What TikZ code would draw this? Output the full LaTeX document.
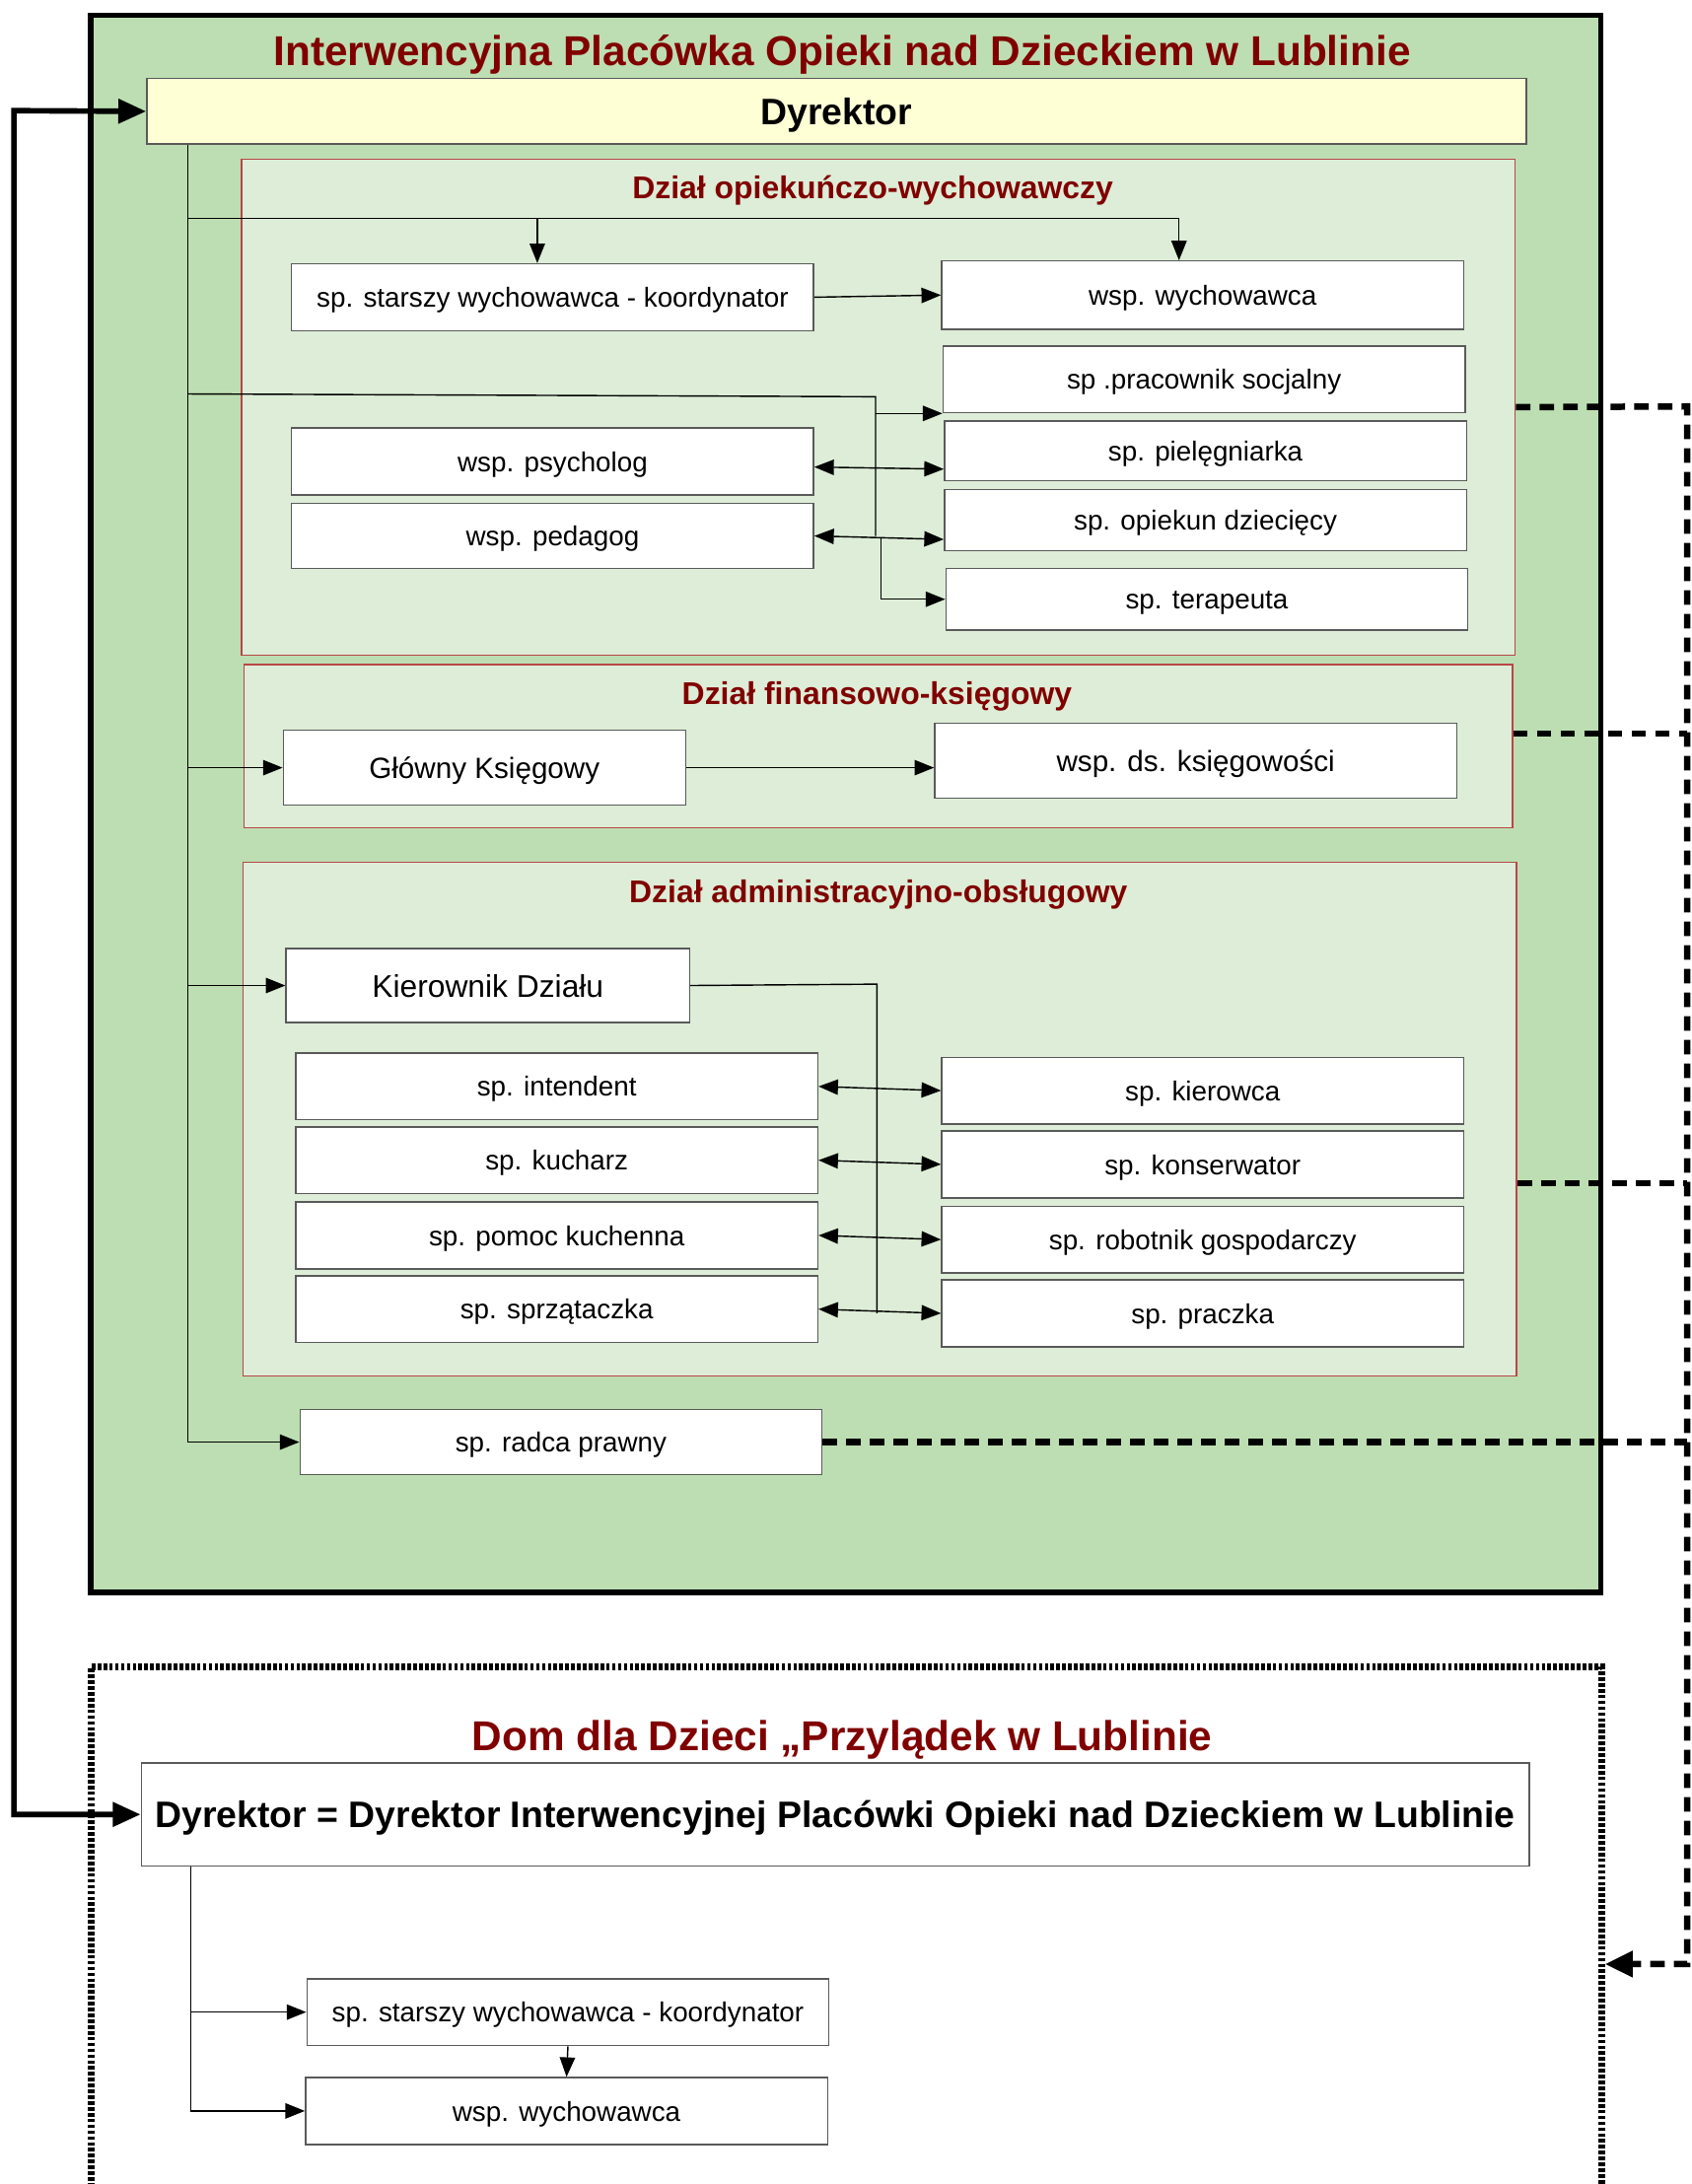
\documentclass[tikz,border=0pt]{standalone}
\usepackage{fontspec}
\setmainfont{Liberation Sans}
\usetikzlibrary{arrows.meta,positioning}
\definecolor{zielen}{RGB}{189,222,178}
\definecolor{jasnazielen}{RGB}{221,237,215}
\definecolor{zolty}{RGB}{255,255,214}
\definecolor{bordo}{RGB}{128,0,0}
\definecolor{ramka}{RGB}{90,90,90}
\definecolor{czerw}{RGB}{185,70,70}

\begin{document}
\begin{tikzpicture}[x=1pt, y=-1pt, line width=1pt,
    >={Triangle[length=14pt,width=11pt]},
    box/.style={draw=ramka, fill=white, anchor=north west, inner sep=0pt,
        text height=18.3pt, text depth=4pt,
        minimum width=375pt, minimum height=48pt, font=\fontsize{19.7}{23}\selectfont},
    dzial/.style={draw=czerw, fill=jasnazielen, anchor=north west, inner sep=0pt},
    tytul/.style={text=bordo, font=\bfseries\fontsize{22.6}{27}\selectfont},
    duzy/.style={text=bordo, font=\bfseries\fontsize{30}{36}\selectfont},
    szef/.style={text height=24.6pt, text depth=5.3pt, font=\bfseries\fontsize{26.5}{31}\selectfont},
    kreski/.style={line width=4.6pt, dash pattern=on 10.5pt off 6.5pt},
    gruba/.style={line width=4pt}]
    \useasboundingbox (0,0) rectangle (1215,1569);

    % placowka
    \node[draw, fill=zielen, line width=4pt, anchor=north west, minimum width=1085pt, minimum height=1133pt] (ipo) at (63,9) {};
    \node[duzy] (tytul) at (605,39) {Interwencyjna Placówka Opieki nad Dzieckiem w Lublinie};
    \node[box, szef, fill=zolty, minimum width=991pt, minimum height=47pt] (dyr) at (105,56) {Dyrektor};

    % dzialy
    \node[dzial, minimum width=915pt, minimum height=356pt] (dzial1) at (173,114) {};
    \node[dzial, minimum width=911pt, minimum height=117pt] (dzial2) at (175,477) {};
    \node[dzial, minimum width=915pt, minimum height=369pt] (dzial3) at (174,619) {};
    \node[tytul] (t1) at (627,137) {Dział opiekuńczo-wychowawczy};
    \node[tytul] (t2) at (630,500) {Dział finansowo-księgowy};
    \node[tytul] (t3) at (631,643) {Dział administracyjno-obsługowy};

    \node[box] (starszy) at (209,189) {sp. starszy wychowawca - koordynator};
    \node[box, minimum height=49pt] (wych) at (676,187) {wsp. wychowawca};
    \node[box] (prac) at (677,248) {sp .pracownik socjalny};
    \node[box, minimum height=43pt] (piel) at (678,302) {sp. pielęgniarka};
    \node[box, minimum height=44pt] (opiek) at (678,351) {sp. opiekun dziecięcy};
    \node[box, minimum height=44pt] (terap) at (679,408) {sp. terapeuta};
    \node[box] (psych) at (209,307) {wsp. psycholog};
    \node[box, minimum height=47pt] (ped) at (209,361) {wsp. pedagog};

    \node[box, minimum width=289pt, minimum height=54pt, text height=19.5pt, text depth=4.2pt, font=\fontsize{21}{25}\selectfont] (glowny) at (203,524) {Główny Księgowy};
    \node[box, minimum height=54pt, text height=19.5pt, text depth=4.2pt, font=\fontsize{21}{25}\selectfont] (ksieg) at (671,519) {wsp. ds. księgowości};

    \node[box, minimum width=290pt, minimum height=53pt, text height=20.9pt, text depth=4.5pt, font=\fontsize{22.5}{27}\selectfont] (kier) at (205,681) {Kierownik Działu};
    \node[box] (intend) at (212,756) {sp. intendent};
    \node[box] (kuch) at (212,809) {sp. kucharz};
    \node[box] (pomoc) at (212,863) {sp. pomoc kuchenna};
    \node[box] (sprz) at (212,916) {sp. sprzątaczka};
    \node[box] (kierow) at (676,759) {sp. kierowca};
    \node[box] (kons) at (676,812) {sp. konserwator};
    \node[box] (robot) at (676,866) {sp. robotnik gospodarczy};
    \node[box] (pracz) at (676,919) {sp. praczka};
    \node[box, minimum height=47pt] (radca) at (215,1012) {sp. radca prawny};

    % dom dla dzieci
    \node[draw, anchor=north west, line width=5pt, dash pattern=on 2.6pt off 1.6pt, minimum width=1085pt, minimum height=374pt] (dom) at (63,1195) {};
    \node[duzy] (tytul2) at (605,1250) {Dom dla Dzieci „Przylądek w Lublinie};
    \node[box, szef, minimum width=997pt, minimum height=74pt] (dyr2) at (101,1266) {Dyrektor = Dyrektor Interwencyjnej Placówki Opieki nad Dzieckiem w Lublinie};
    \node[box] (starszy2) at (220,1421) {sp. starszy wychowawca - koordynator};
    \node[box] (wych2) at (219,1492) {wsp. wychowawca};

    % polaczenia
    \coordinate (trunk) at ([xshift=30pt]dyr.south west);
    \coordinate (b1) at (135,157);
    \coordinate (b2) at (135,283);
    \coordinate (c2) at (629,285);
    \coordinate (c3) at (633,387);
    \coordinate (c4) at (630,707);
    \draw[->] (trunk) |- (radca.west);
    \draw[->] (b1) -| ([xshift=-11pt]starszy.north);
    \draw[->] (b1) -| ([xshift=-17pt]wych.north);
    \draw[->] (starszy.east) -- (wych.west);
    \draw (b2) -- (c2) -- (c2 |- ped.east);
    \draw[->] (c2 |- prac.south) -- (prac.south west);
    \draw[<->] ([yshift=-4pt]psych.east) -- ([yshift=-13pt]piel.west);
    \draw[<->] (ped.east) -- ([yshift=-14pt]opiek.west);
    \draw[->] (c3) |- (terap.west);
    \draw[->] (trunk |- glowny.west) -- (glowny.west);
    \draw[->] (glowny.east) -- (glowny.east -| ksieg.west);
    \draw[->] (trunk |- kier.west) -- (kier.west);
    \draw (kier.east) -- (c4) -- (c4 |- pracz.west);
    \draw[<->] (intend.east) -- (kierow.west);
    \draw[<->] (kuch.east) -- (kons.west);
    \draw[<->] (pomoc.east) -- (robot.west);
    \draw[<->] (sprz.east) -- (pracz.west);

    \coordinate (trunk2) at ([xshift=36pt]dyr2.south west);
    \draw[->] (trunk2) |- (wych2.west);
    \draw[->] (trunk2 |- starszy2.west) -- (starszy2.west);
    \draw[->] (starszy2.south) -- (wych2.north);

    \coordinate (lewo) at (10,79.5);
    \draw[gruba, {Triangle[length=20pt,width=17pt]}-{Triangle[length=20pt,width=17pt]}] (dyr.west) -- (lewo) |- (dyr2.west);

    \coordinate (r1) at (1212,292);
    \coordinate (r2) at (1212,1411);
    \coordinate (d2) at ([yshift=9pt]dzial2.east);
    \coordinate (d3) at ([yshift=-46pt]dzial3.east);
    \draw[kreski, -{Triangle[length=20pt,width=18pt]}] (dzial1.east) -- (r1) -- (r2) -- (r2 -| dom.east);
    \draw[kreski] (d2) -- (d2 -| r1);
    \draw[kreski] (d3) -- (d3 -| r1);
    \draw[kreski] (radca.east) -- (radca.east -| r1);
\end{tikzpicture}
\end{document}
